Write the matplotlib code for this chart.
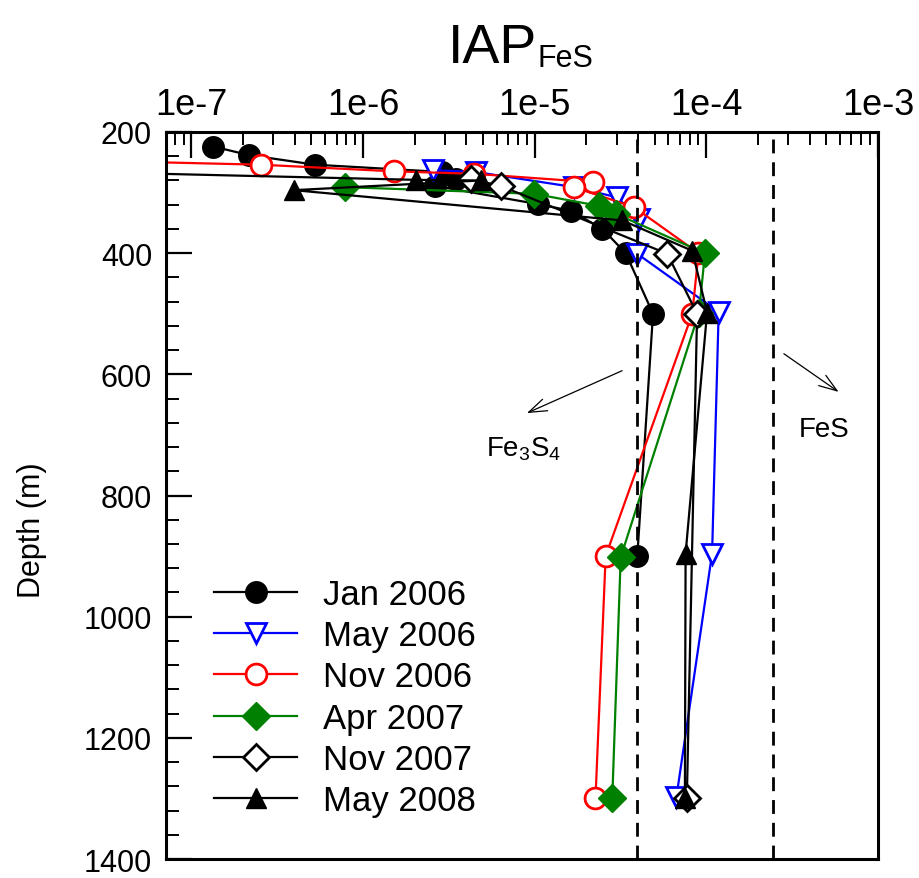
import matplotlib
matplotlib.use("Agg")
import matplotlib.pyplot as plt
from matplotlib.ticker import LogLocator, FixedLocator, NullFormatter, FixedFormatter

plt.rcParams['font.family'] = ['Liberation Sans', 'DejaVu Sans']
plt.rcParams['mathtext.fontset'] = 'custom'
plt.rcParams['mathtext.rm'] = 'Liberation Sans'
plt.rcParams['mathtext.it'] = 'Liberation Sans'

# Ion activity product of FeS versus depth, one profile per cruise
jan06_depth = [224, 238, 254, 266, 278, 289, 319, 330, 360, 400, 500, 900]
jan06_iap = [1.34e-7, 2.15e-7, 5.25e-7, 2.9e-6, 3.47e-6, 2.63e-6, 1.04e-5, 1.62e-5, 2.48e-5, 3.39e-5, 4.89e-5, 3.96e-5]

may06_depth = [263, 266, 291, 308, 344, 401, 497, 896, 1297]
may06_iap = [2.57e-6, 4.53e-6, 1.7e-5, 3.03e-5, 4.05e-5, 3.96e-5, 1.18e-4, 1.08e-4, 6.7e-5]

nov06_depth = [230, 254, 265, 269, 283, 291, 324, 400, 500, 900, 1300]
nov06_iap = [6.5e-11, 2.55e-7, 1.52e-6, 4.44e-6, 2.19e-5, 1.69e-5, 3.79e-5, 9.0e-5, 8.28e-5, 2.59e-5, 2.26e-5]

apr07_depth = [291, 302, 322, 335, 400, 498, 902, 1300]
apr07_iap = [7.8e-7, 9.9e-6, 2.37e-5, 2.96e-5, 9.82e-5, 9.06e-5, 3.17e-5, 2.83e-5]

nov07_depth = [278, 289, 401, 500, 1299]
nov07_iap = [4.24e-6, 6.34e-6, 5.92e-5, 8.83e-5, 7.7e-5]

may08_depth = [250, 279, 280, 296, 346, 396, 498, 896, 1299]
may08_iap = [1e-10, 2.04e-6, 4.85e-6, 3.95e-7, 3.24e-5, 8.28e-5, 1.01e-4, 7.57e-5, 7.5e-5]

# saturation levels for greigite and mackinawite
fe3s4_sat = 3.95e-5
fes_sat = 2.44e-4

x_ticks = [1e-7, 1e-6, 1e-5, 1e-4, 1e-3]
x_ticklabels = ['1e-7', '1e-6', '1e-5', '1e-4', '1e-3']
y_ticks = [200, 400, 600, 800, 1000, 1200, 1400]

fig = plt.figure(figsize=(9.2, 8.79), dpi=100)
ax = fig.add_axes([0.1804, 0.0216, 0.7739, 0.8271])

series = [
    (jan06_depth, jan06_iap, 'Jan 2006', dict(color='black', marker='o', mfc='black', mec='black', ms=15.5)),
    (may06_depth, may06_iap, 'May 2006', dict(color='blue', marker='v', mfc='white', mec='blue', ms=15, mew=2)),
    (nov06_depth, nov06_iap, 'Nov 2006', dict(color='red', marker='o', mfc='white', mec='red', ms=15, mew=2)),
    (apr07_depth, apr07_iap, 'Apr 2007', dict(color='green', marker='D', mfc='green', mec='green', ms=14)),
    (nov07_depth, nov07_iap, 'Nov 2007', dict(color='black', marker='D', mfc='white', mec='black', ms=13.5, mew=2)),
    (may08_depth, may08_iap, 'May 2008', dict(color='black', marker='^', mfc='black', mec='black', ms=15)),
]
for d, v, lab, st in series:
    ax.plot(v, d, lw=1.6, label=lab, **st)

ax.axvline(fe3s4_sat, color='black', lw=2, ls=(0, (5, 3.2)))
ax.axvline(fes_sat, color='black', lw=2, ls=(0, (5, 3.2)))

arrow = dict(arrowstyle='->,head_length=1.3,head_width=0.45', lw=0.9, color='black',
             shrinkA=0, shrinkB=0)
ax.annotate('', xy=(9.0e-6, 664), xytext=(3.23e-5, 594), arrowprops=arrow)
ax.annotate('', xy=(5.9e-4, 629), xytext=(2.83e-4, 566), arrowprops=arrow)
ax.text(8.6e-6, 722, r'Fe$_3$S$_4$', fontsize=20, ha='center', va='center')
ax.text(4.85e-4, 690, 'FeS', fontsize=20, ha='center', va='center')

ax.set_xscale('log')
ax.set_xlim(7.1e-8, 1e-3)
ax.set_ylim(1400, 200)
ax.xaxis.tick_top()
ax.xaxis.set_label_position('top')
ax.xaxis.set_major_locator(FixedLocator(x_ticks))
ax.xaxis.set_major_formatter(FixedFormatter(x_ticklabels))
ax.xaxis.set_minor_locator(LogLocator(base=10, subs=range(2, 10)))
ax.xaxis.set_minor_formatter(NullFormatter())
ax.yaxis.set_major_locator(FixedLocator(y_ticks))
ax.yaxis.set_minor_locator(FixedLocator(list(range(200, 1401, 40))))

ax.tick_params(axis='x', which='major', direction='in', length=19, width=1.6, pad=7,
               labelsize=26, top=True, bottom=False)
ax.tick_params(axis='x', which='minor', direction='in', length=9.5, width=1.4, top=True, bottom=False)
ax.tick_params(axis='y', which='major', direction='in', length=19, width=1.6, pad=10,
               labelsize=22, left=True, right=False)
ax.tick_params(axis='y', which='minor', direction='in', length=9.5, width=1.4, left=True, right=False)
for s in ax.spines.values():
    s.set_linewidth(2.2)

ax.set_ylabel('Depth (m)', fontsize=22)
ax.yaxis.set_label_coords(-0.167, 0.454)
fig.text(0.5835, 1 - 63 / 879, 'IAP', fontsize=40, ha='right', va='baseline')
fig.text(0.5845, 1 - 67 / 879, 'FeS', fontsize=22, ha='left', va='baseline')

ax.legend(loc='upper left', bbox_to_anchor=(0.048, 0.406), frameon=False, fontsize=25,
          handlelength=2.4, handletextpad=0.75, labelspacing=0.24, borderaxespad=0)

fig.savefig('out.png', dpi=100)
